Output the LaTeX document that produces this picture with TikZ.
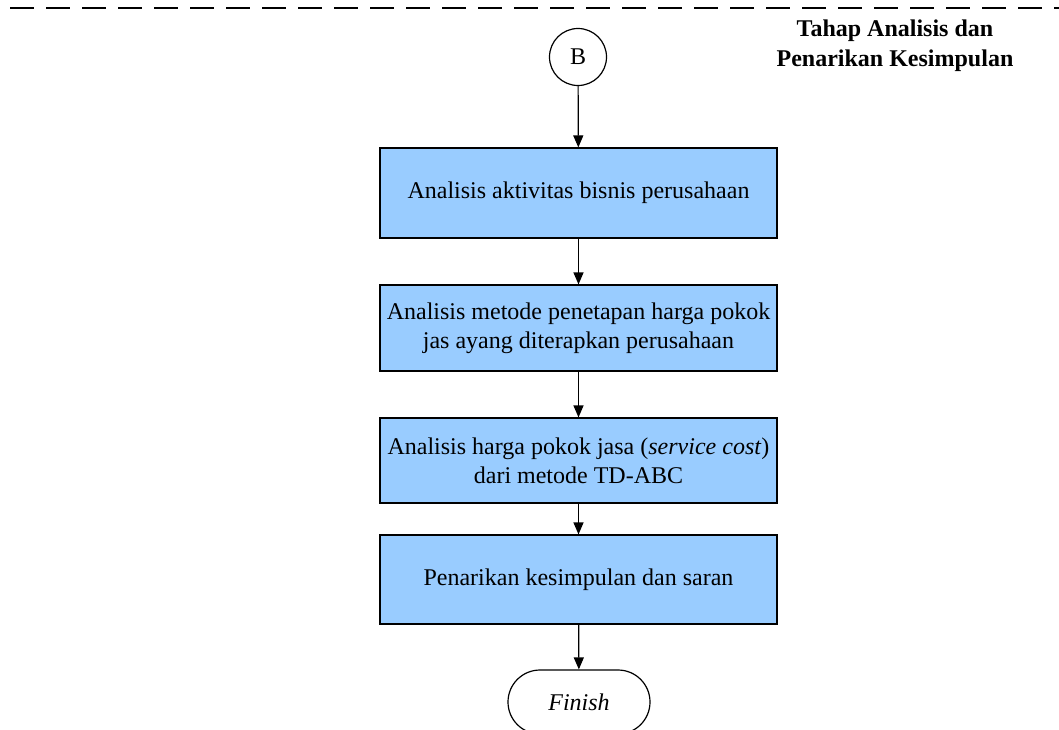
\documentclass[tikz,border=0pt]{standalone}
\usepackage{fontspec}
\setmainfont{Liberation Serif}
\usetikzlibrary{arrows.meta,shapes.misc}
\definecolor{boxblue}{HTML}{99CCFF}
\begin{document}
\begin{tikzpicture}[x=1pt,y=-1pt,
  every node/.style={font=\fontsize{24}{29}\selectfont},
  procbox/.style={draw=black,line width=1.2pt,fill=boxblue,minimum width=397pt,align=center,inner sep=0pt},
  conn/.style={draw=black,line width=1.2pt,-{Triangle[width=10pt,length=12pt]}},
  connector/.style={circle,draw=black,line width=1.2pt,minimum size=57pt,inner sep=0pt},
  term/.style={rounded rectangle,draw=black,line width=1.2pt,minimum width=142pt,minimum height=64pt,inner sep=0pt}]
\useasboundingbox (0,0) rectangle (1059,729);
\begin{scope}
\clip (0,0) rectangle (1059,729);
\draw[line width=1.4pt,dash pattern=on 24pt off 12pt] (10,8) -- (1059,8);
\node[font=\fontsize{24}{30}\selectfont\bfseries,align=center] (title) at (895,46) {Tahap Analisis dan\\Penarikan Kesimpulan};
\node[connector] (B) at (578,57) {B};
\node[procbox,minimum height=90pt] (p1) at (578.5,193) {Analisis aktivitas bisnis perusahaan};
\node[procbox,minimum height=86pt] (p2) at (578.5,328) {Analisis metode penetapan harga pokok\\jas ayang diterapkan perusahaan};
\node[procbox,minimum height=85pt] (p3) at (578.5,460.5) {Analisis harga pokok jasa (\textit{service cost})\\dari metode TD-ABC};
\node[procbox,minimum height=89pt] (p4) at (578.5,579.5) {Penarikan kesimpulan dan saran};
\node[term] (fin) at (579,702) {\textit{Finish}};
\draw[conn] (B) -- (p1);
\draw[conn] (p1) -- (p2);
\draw[conn] (p2) -- (p3);
\draw[conn] (p3) -- (p4);
\draw[conn] (p4) -- (fin);
\end{scope}
\end{tikzpicture}
\end{document}
